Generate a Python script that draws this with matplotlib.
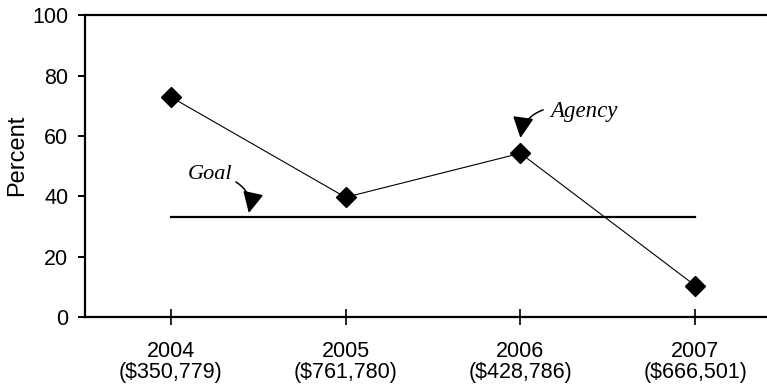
import matplotlib
matplotlib.use("Agg")
import matplotlib.pyplot as plt

# data
years = ["2004", "2005", "2006", "2007"]
budgets = ["($350,779)", "($761,780)", "($428,786)", "($666,501)"]
agency_pct = [73, 39.7, 54.3, 10.4]
goal_pct = 33.3

SANS = ["Liberation Sans", "DejaVu Sans"]
SERIF = ["Liberation Serif", "DejaVu Serif"]

plt.rcParams["font.family"] = SANS

fig = plt.figure(figsize=(7.67, 3.92), dpi=100)
ax = fig.add_axes([0.1108, 0.1913, 0.8892, 0.7692])

x = list(range(len(years)))
ax.plot(x, agency_pct, color="black", linewidth=0.8, marker="D",
        markersize=10.5, markerfacecolor="black", markeredgecolor="black", zorder=3)
ax.plot([x[0], x[-1]], [goal_pct, goal_pct], color="black", linewidth=1.6, zorder=2)

ax.set_xlim(-0.49, 3.41)
ax.set_ylim(0, 100)
ax.set_yticks([0, 20, 40, 60, 80, 100])
ax.set_xticks(x)
ax.set_xticklabels([f"{y}\n{b}" for y, b in zip(years, budgets)], linespacing=0.95)
ax.set_ylabel("Percent", fontsize=17, va="center")
ax.yaxis.set_label_coords(-0.099, 0.537)

for side in ["left", "top", "bottom"]:
    ax.spines[side].set_linewidth(1.6)
ax.spines["right"].set_visible(False)
ax.tick_params(axis="y", direction="out", length=5, width=1.4, labelsize=15.5, pad=7)
ax.tick_params(axis="x", direction="inout", length=11, width=1.2, labelsize=15.5, pad=12)

arrow = dict(arrowstyle="-|>,head_length=1.3,head_width=0.65",
             color="black", linewidth=1.1, shrinkA=0, shrinkB=0)

ax.text(2.17, 68, "Agency", fontsize=16.5, fontstyle="italic", family=SERIF,
        ha="left", va="center")
ax.annotate("", xy=(2.0, 59.4), xytext=(2.13, 68.7),
            arrowprops=dict(arrow, connectionstyle="arc3,rad=0.3"))

ax.text(0.098, 47.1, "Goal", fontsize=16, fontstyle="italic", family=SERIF,
        ha="left", va="center")
ax.annotate("", xy=(0.447, 34.5), xytext=(0.373, 44.8),
            arrowprops=dict(arrow, connectionstyle="arc3,rad=-0.35"))

fig.savefig("out.png", dpi=100)
